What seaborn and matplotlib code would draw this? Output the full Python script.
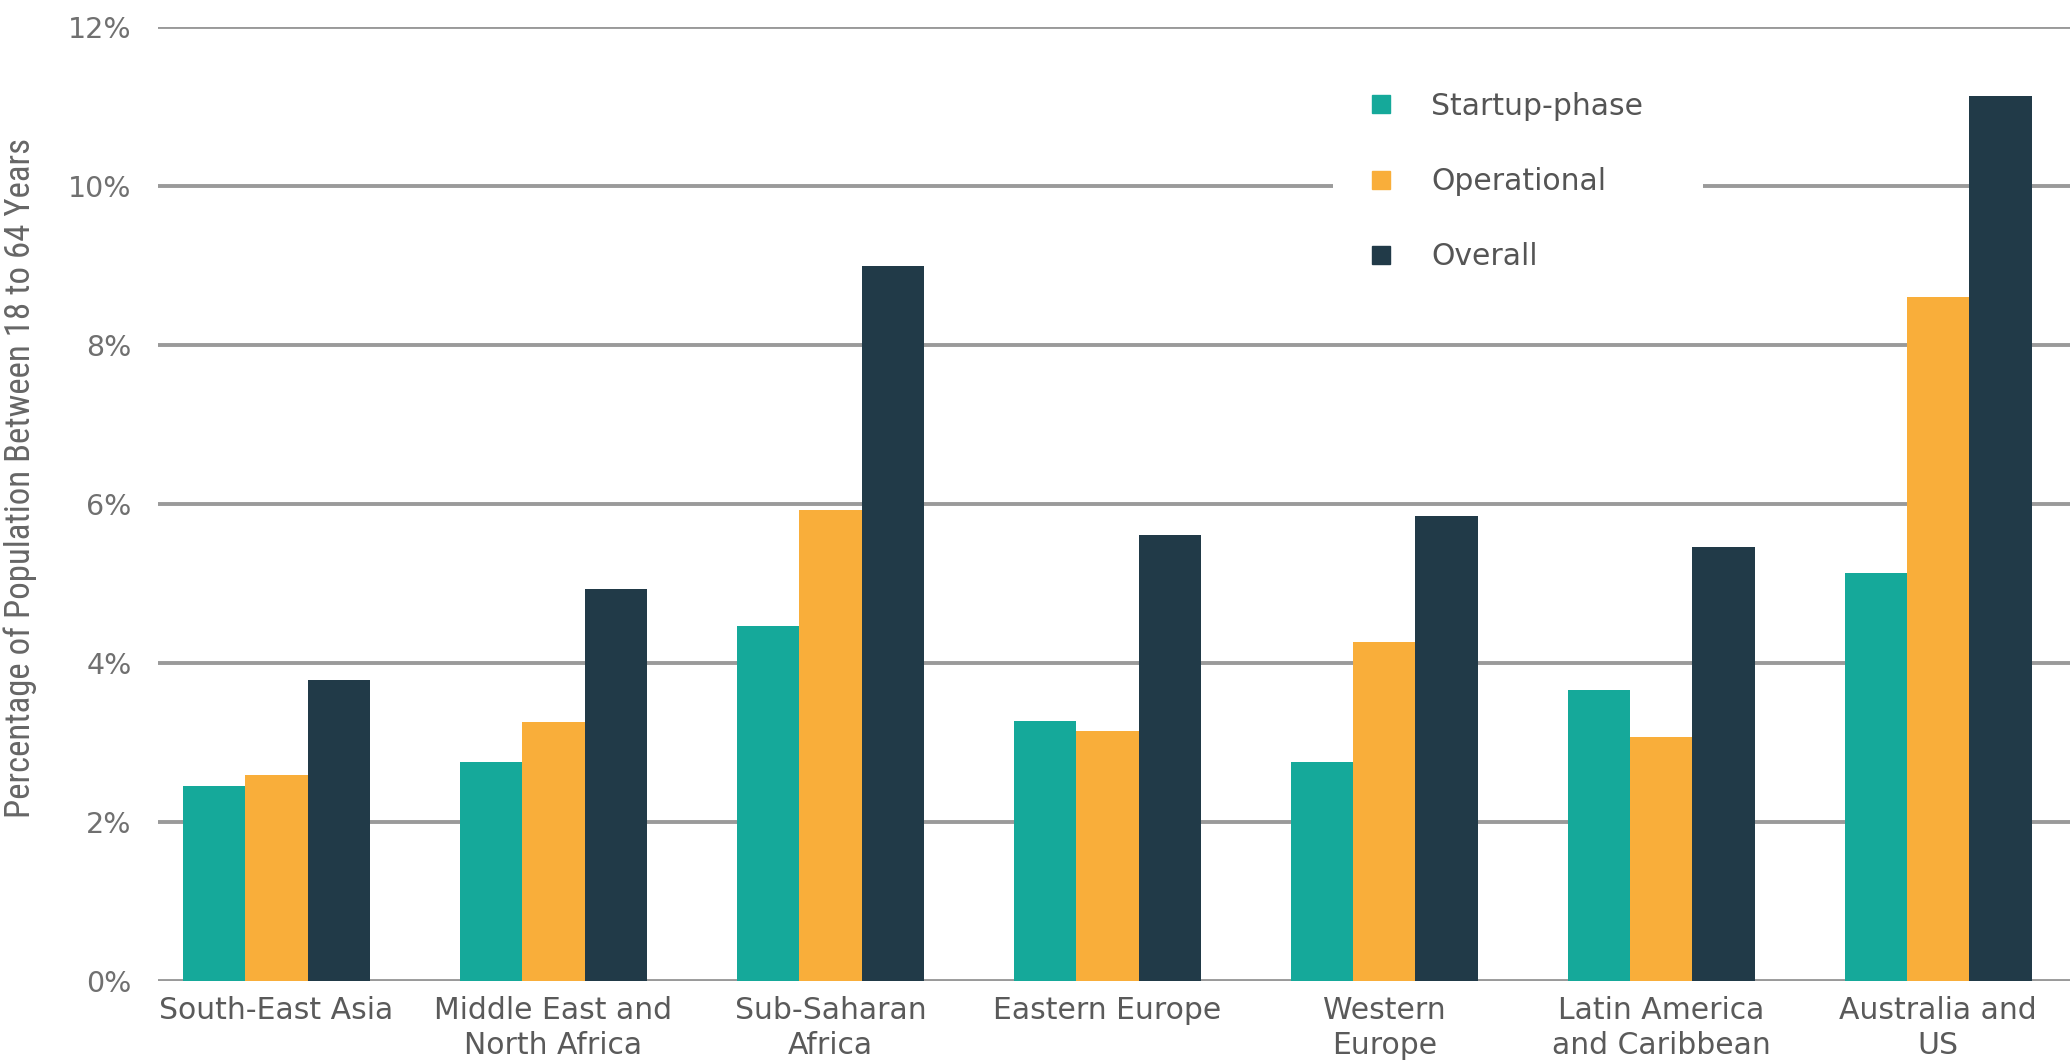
import matplotlib
matplotlib.use("Agg")
import matplotlib.pyplot as plt
from matplotlib.lines import Line2D
from matplotlib.patches import Rectangle
from matplotlib import font_manager
import pandas as pd
import seaborn as sns

# ── Data ──────────────────────────────────────────────────────────────────────
regions = [
    "South-East Asia",
    "Middle East and\nNorth Africa",
    "Sub-Saharan\nAfrica",
    "Eastern Europe",
    "Western\nEurope",
    "Latin America\nand Caribbean",
    "Australia and\nUS",
]
startup = [2.45, 2.75, 4.46, 3.27, 2.76, 3.66, 5.13]
operational = [2.59, 3.26, 5.92, 3.15, 4.26, 3.07, 8.60]
overall = [3.79, 4.93, 8.99, 5.61, 5.85, 5.46, 11.13]

series = ["Startup-phase", "Operational", "Overall"]
colors = ["#15A99A", "#F9AE3A", "#213A48"]
y_ticks = [0, 2, 4, 6, 8, 10, 12]

df = pd.DataFrame({
    "region": regions * 3,
    "phase": [s for s in series for _ in regions],
    "value": startup + operational + overall,
})

# narrow font for the y-axis title, if one is around
names = {f.name for f in font_manager.fontManager.ttflist}
narrow = [n for n in ["Liberation Sans Narrow", "Roboto Condensed", "DejaVu Sans"] if n in names]

# ── Plot ──────────────────────────────────────────────────────────────────────
sns.set_theme(style="white")
plt.rcParams["font.family"] = ["DejaVu Sans"]

fig = plt.figure(figsize=(20.7, 10.61), dpi=100)
ax = fig.add_axes([158 / 2070, 1 - 981 / 1061, 1 - 158 / 2070, (981 - 27) / 1061])

sns.barplot(data=df, x="region", y="value", hue="phase", order=regions,
            hue_order=series, palette=colors, width=0.675, gap=0,
            saturation=1, ax=ax, legend=False, zorder=3)
for p in ax.patches:
    p.set_edgecolor("none")

ax.set_xlim(-0.428, 6.476)
ax.set_ylim(0, 12)
ax.set_yticks(y_ticks)
ax.set_yticklabels([f"{t}%" for t in y_ticks], color="#707070", fontsize=20.5)
ax.grid(axis="y", color="#9a9a9a", linewidth=2.8, zorder=0)
ax.set_axisbelow(True)
sns.despine(ax=ax, left=True, bottom=True, right=True, top=True)
ax.tick_params(axis="both", length=0)
ax.tick_params(axis="y", pad=19)
ax.tick_params(axis="x", pad=11)
ax.set_xlabel("")
ax.set_ylabel("")
for lbl in ax.get_xticklabels():
    lbl.set_fontsize(21.5)
    lbl.set_color("#5a5a5a")
    lbl.set_linespacing(1.25)

fig.text(20 / 2070, 1 - 478 / 1061, "Percentage of Population Between 18 to 64 Years",
         rotation=90, ha="center", va="center", fontsize=25, color="#666666",
         family=narrow, stretch="condensed")

# white gap in the 10% gridline behind the legend
ax.add_patch(Rectangle(((1333 - 158) / 1912, 0.78), (1703 - 1333) / 1912, 0.16,
                       transform=ax.transAxes, facecolor="white", edgecolor="none",
                       zorder=2))

handles = [Line2D([0], [0], marker="s", linestyle="none", markersize=13,
                  markerfacecolor=c, markeredgecolor=c) for c in colors]
leg = ax.legend(handles, series, loc="upper left", bbox_to_anchor=(0.632, 0.932),
                frameon=False, fontsize=21.5, labelspacing=1.55, handletextpad=1.18,
                borderpad=0, handlelength=1.0, labelcolor="#555555",
                borderaxespad=0)
leg.set_zorder(5)

fig.savefig("out.png", dpi=100, facecolor="white")
